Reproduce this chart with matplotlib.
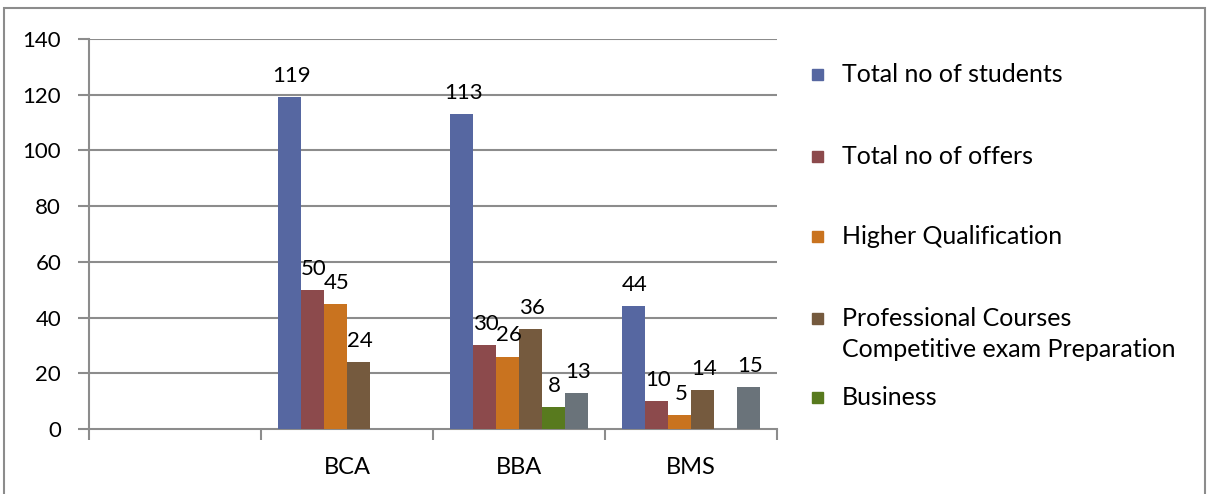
import matplotlib.pyplot as plt
from matplotlib.patches import Rectangle
import numpy as np

plt.rcParams['font.family'] = ['Lato', 'DejaVu Sans']

# chart data
categories = ['', 'BCA', 'BBA', 'BMS']
series_names = ['Total no of students', 'Total no of offers', 'Higher Qualification',
                'Professional Courses\nCompetitive exam Preparation', 'Business', '']
students = [None, 119, 113, 44]
offers = [None, 50, 30, 10]
higher = [None, 45, 26, 5]
professional = [None, 24, 36, 14]
business = [None, None, 8, None]
competitive = [None, None, 13, 15]
all_series = [students, offers, higher, professional, business, competitive]
colors = ['#5667a1', '#8c4a4c', '#c9731f', '#755a3e', '#587a1e', '#6a737a']
y_ticks = [0, 20, 40, 60, 80, 100, 120, 140]

W, H = 1210, 494
fig = plt.figure(figsize=(W / 100, H / 100), dpi=100)
ax = fig.add_axes([89 / W, 65 / H, (777 - 89) / W, (429 - 39) / H])

# outer frame of the chart
fig.patches.append(Rectangle((4 / W, -0.05), (1205 - 4) / W, (H - 8) / H + 0.05,
                             transform=fig.transFigure, fill=False,
                             edgecolor='#8c8c8c', linewidth=1.5))

n = len(all_series)
width = 1 / (n + 1.5)
for i, (vals, col) in enumerate(zip(all_series, colors)):
    for j, v in enumerate(vals):
        if v is None:
            continue
        x = j + 0.5 + (i - (n - 1) / 2) * width
        ax.bar(x, v, width=width, color=col, edgecolor='none', zorder=3)
        ax.annotate(str(v), (x, v), xytext=(1, 8), textcoords='offset points',
                    ha='center', va='bottom', fontsize=16, color='black', zorder=4)

ax.set_xlim(0, len(categories))
ax.set_ylim(0, 140)
for t in y_ticks[1:]:
    ax.axhline(t, color='#8c8c8c', linewidth=1.5, zorder=1)

ax.set_yticks(y_ticks)
ax.set_yticklabels([str(t) for t in y_ticks], fontsize=16)
ax.set_xticks(np.arange(len(categories) + 1))
ax.set_xticklabels([])
ax.set_xticks(np.arange(len(categories)) + 0.5, minor=True)
ax.set_xticklabels(categories, minor=True, fontsize=17)
ax.tick_params(axis='x', which='minor', length=0, pad=20)
ax.tick_params(axis='x', which='major', length=8, width=1.5, color='#8c8c8c', direction='out')
ax.tick_params(axis='y', length=8, width=1.5, color='#8c8c8c', pad=12)

for side in ['top', 'right']:
    ax.spines[side].set_visible(False)
for side in ['left', 'bottom']:
    ax.spines[side].set_color('#8c8c8c')
    ax.spines[side].set_linewidth(1.5)

# legend drawn by hand to keep Excel's uneven spacing
legend_y = [74, 156, 236, 318, 397]
for name, col, yy in zip(series_names[:5], colors[:5], legend_y):
    fig.patches.append(Rectangle((812 / W, (H - yy - 6) / H), 11 / W, 11 / H,
                                 transform=fig.transFigure, color=col))
    for k, line in enumerate(name.split('\n')):
        fig.text(842 / W, (H - yy - 31 * k) / H, line, fontsize=18,
                 va='center', ha='left')

fig.savefig('out.png', dpi=100)
